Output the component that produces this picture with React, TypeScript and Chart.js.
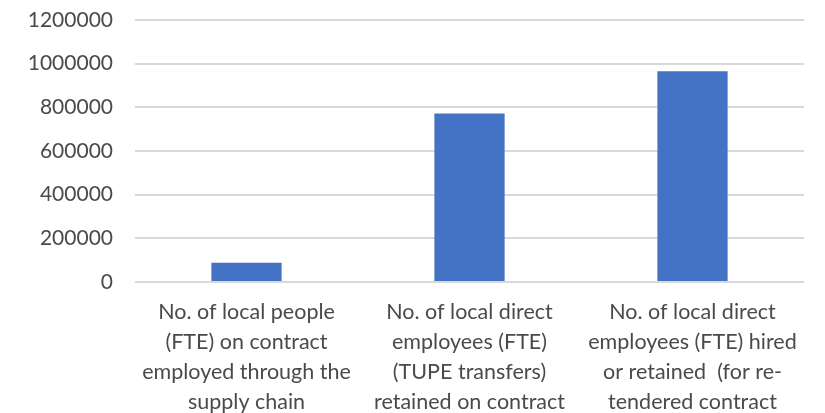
import React, { useEffect, useRef } from "react";
import { Chart, registerables } from "chart.js";

Chart.register(...registerables);

const categories: string[][] = [
  ["No. of local people", "(FTE) on contract", "employed through the", "supply chain"],
  ["No. of local direct", "employees (FTE)", "(TUPE transfers)", "retained on contract", "(Reported period)"],
  ["No. of local direct", "employees (FTE) hired", "or retained  (for re-", "tendered contract", "awards)"],
];
const values: number[] = [88000, 772000, 965000];
const yMin = 0;
const yMax = 1200000;
const yStep = 200000;

export default function App() {
  const ref = useRef<HTMLCanvasElement | null>(null);
  useEffect(() => {
    if (!ref.current) return;
    const family = "Lato, 'Liberation Sans', sans-serif";
    const chart = new Chart(ref.current, {
      type: "bar",
      data: {
        labels: categories,
        datasets: [
          {
            data: values,
            backgroundColor: "#4472C4",
            borderWidth: 0,
            categoryPercentage: 1,
            barPercentage: 0.315,
          },
        ],
      },
      options: {
        animation: false,
        responsive: false,
        maintainAspectRatio: false,
        layout: { padding: { top: 20, right: 21, left: 0, bottom: 0 } },
        plugins: { legend: { display: false }, tooltip: { enabled: false } },
        scales: {
          x: {
            grid: { display: false, drawTicks: false },
            border: { display: false },
            ticks: {
              color: "#4a4a4a",
              font: { family, size: 21.5, lineHeight: "30px" as any },
              padding: 15,
              maxRotation: 0,
              minRotation: 0,
              autoSkip: false,
            },
            afterFit: (s: any) => {
              s.height = 131;
              s.paddingLeft = 0;
              s.paddingRight = 0;
            },
          },
          y: {
            min: yMin,
            max: yMax,
            grid: { color: "#d9d9d9", lineWidth: 2, drawTicks: false },
            border: { display: false },
            ticks: {
              stepSize: yStep,
              color: "#4a4a4a",
              font: { family, size: 21 },
              padding: 22,
              callback: (v: any) => String(v),
            },
            afterFit: (s: any) => {
              s.width = 135;
              s.paddingTop = 0;
              s.paddingBottom = 0;
            },
          },
        },
      },
    });
    return () => chart.destroy();
  }, []);
  return (
    <div style={{ position: "fixed", left: 0, top: 0, width: 825, height: 413, overflow: "hidden", background: "#fff" }}>
      <canvas ref={ref} width={825} height={413} style={{ display: "block" }} />
    </div>
  );
}
